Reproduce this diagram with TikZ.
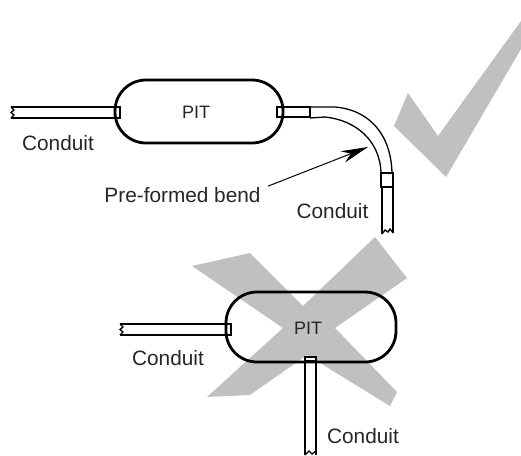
\documentclass[tikz,border=0pt]{standalone}
\usepackage{fontspec}
\setmainfont{Liberation Sans}
\usetikzlibrary{arrows.meta}
\definecolor{markgrey}{HTML}{C0C0C0}
\pgfdeclarelayer{greys}
\pgfdeclarelayer{tubes}
\pgfsetlayers{greys,tubes,main}
\tikzset{
  pitbox/.style={draw=black,line width=2.8pt,rounded corners=31pt,minimum width=#1,inner sep=0pt},
  lab/.style={inner sep=0pt,font=\fontsize{20.8}{23}\selectfont,text=black!85},
  pitlab/.style={inner sep=0pt,font=\fontsize{18}{20}\selectfont,text=black!85},
  tube/.style={draw=black,line width=1.3pt,fill=white},
  tubeline/.style={draw=black,line width=1.3pt},
  leader/.style={draw=black,line width=1pt,-{Stealth[length=27pt,width=12pt]}}
}
\begin{document}
\begin{tikzpicture}[x=1pt,y=-1pt]
\useasboundingbox (0,0) rectangle (521,455);
% pits
\node[pitbox=168pt,minimum height=63pt] (pitA) at (199,111.5) {};
\node[pitbox=170pt,minimum height=70pt] (pitB) at (311,327) {};
\node[pitlab] (pitAlab) at (196,112) {PIT};
\node[pitlab] (pitBlab) at (308,328) {PIT};
% grey marks
\begin{pgfonlayer}{greys}
\fill[markgrey] (408,93) -- (438,136) -- (521,21) -- (521,49) -- (446,177) -- (394,126) -- cycle;
\fill[markgrey] (192,266) -- (250,253) -- (303,306) -- (375,237) -- (407,278) -- (335,328) -- (397,392) -- (390,406) -- (307,355) -- (250,395) -- (207,397) -- (283,328) -- cycle;
\end{pgfonlayer}
% end coordinates
\coordinate (endA) at (11,112.5);
\coordinate (endB) at (393,233);
\coordinate (endD) at (316,455);
\begin{pgfonlayer}{tubes}
% top-left conduit
\draw[tubeline] (endA |- 0,107) -- (pitA.west |- 0,107);
\draw[tubeline] (endA |- 0,118) -- (pitA.west |- 0,118);
\draw[tubeline] (11,107) -- (14,110) -- (11,112.5) -- (14,115) -- (11,118);
\draw[tube] (115,107) rectangle (120,118);
% bent conduit
\draw[tube] (277,107) rectangle (310,117);
\draw[tubeline] (310,107) -- (335,107) .. controls (370,110) and (391,135) .. (392,173);
\draw[tubeline] (310,118) -- (325,117) .. controls (355,120) and (380,140) .. (381,173);
\draw[tube] (381,173) rectangle (393,187);
\draw[tubeline] (382,187) -- (382,234);
\draw[tubeline] (endB) -- (393,187);
\draw[tubeline] (382,234) -- (385,230) -- (388,232) -- (390,229) -- (393,233);
% lower-left conduit
\draw[tubeline] (120,324) -- (pitB.west |- 0,324);
\draw[tubeline] (120,335) -- (pitB.west |- 0,335);
\draw[tubeline] (120,324) -- (123,327) -- (120,329.5) -- (123,332) -- (120,335);
\draw[tube] (226,324) rectangle (231,335);
% lower vertical conduit
\fill[white] (305,357) rectangle (316,455);
\draw[tubeline] (305,361) -- (305,455);
\draw[tubeline] (endD) -- (316,361);
\draw[tube] (305,357) rectangle (316,361);
\draw[tubeline] (305,455) -- (309,451) -- (312,454) -- (316,451);
\end{pgfonlayer}
% labels
\node[lab] (c1) at (58,143) {Conduit};
\node[lab] (bend) at (182.5,195) {Pre-formed bend};
\node[lab] (c2) at (332.5,211) {Conduit};
\node[lab] (c3) at (168,358) {Conduit};
\node[lab] (c4) at (363,436) {Conduit};
\coordinate (tip) at (368,147);
\draw[leader,shorten <=8pt] (bend.east) ++(0,-6) -- (tip);
\end{tikzpicture}
\end{document}
